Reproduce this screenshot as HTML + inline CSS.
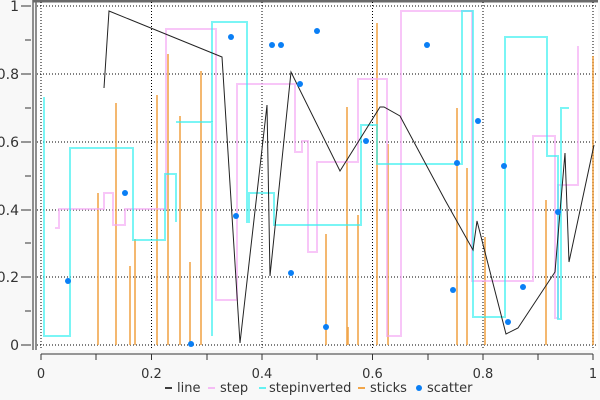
<!DOCTYPE html>
<html><head><meta charset="utf-8"><style>
html,body{margin:0;padding:0;background:#f8f8f8;}
svg{display:block;font-family:"DejaVu Sans","Liberation Sans",sans-serif;}
</style></head><body>
<svg width="600" height="400" viewBox="0 0 600 400" xmlns="http://www.w3.org/2000/svg">
<rect x="0" y="0" width="600" height="400" fill="#f8f8f8"/>
<rect x="36" y="2" width="562" height="348" fill="#ffffff"/>
<line x1="33" y1="1" x2="598" y2="1" stroke="#6a6a6a" stroke-width="3"/>
<line x1="33" y1="0" x2="33" y2="350" stroke="#6a6a6a" stroke-width="1.5"/>
<line x1="36" y1="0" x2="36" y2="350" stroke="#6a6a6a" stroke-width="1.5"/>
<g stroke="#000" stroke-width="1" stroke-dasharray="1,2">
<line x1="41" y1="2" x2="41" y2="350"/><line x1="151.5" y1="2" x2="151.5" y2="350"/><line x1="262" y1="2" x2="262" y2="350"/><line x1="372.5" y1="2" x2="372.5" y2="350"/><line x1="483" y1="2" x2="483" y2="350"/><line x1="593" y1="2" x2="593" y2="350"/>
<line x1="37" y1="6" x2="598" y2="6"/><line x1="37" y1="74" x2="598" y2="74"/><line x1="37" y1="142" x2="598" y2="142"/><line x1="37" y1="210" x2="598" y2="210"/><line x1="37" y1="277" x2="598" y2="277"/><line x1="37" y1="345" x2="598" y2="345"/>
</g>
<g stroke="#333" stroke-width="1">
<line x1="21" y1="6" x2="31" y2="6"/><line x1="25" y1="40" x2="31" y2="40"/><line x1="21" y1="74" x2="31" y2="74"/><line x1="25" y1="108" x2="31" y2="108"/><line x1="21" y1="142" x2="31" y2="142"/><line x1="25" y1="176" x2="31" y2="176"/><line x1="21" y1="210" x2="31" y2="210"/><line x1="25" y1="243" x2="31" y2="243"/><line x1="21" y1="277" x2="31" y2="277"/><line x1="25" y1="311" x2="31" y2="311"/><line x1="21" y1="345" x2="31" y2="345"/>
<line x1="41" y1="354" x2="593" y2="354"/>
<line x1="41" y1="354" x2="41" y2="360"/><line x1="96" y1="354" x2="96" y2="360"/><line x1="151.5" y1="354" x2="151.5" y2="360"/><line x1="207" y1="354" x2="207" y2="360"/><line x1="262" y1="354" x2="262" y2="360"/><line x1="317" y1="354" x2="317" y2="360"/><line x1="372.5" y1="354" x2="372.5" y2="360"/><line x1="428" y1="354" x2="428" y2="360"/><line x1="483" y1="354" x2="483" y2="360"/><line x1="538" y1="354" x2="538" y2="360"/><line x1="593" y1="354" x2="593" y2="360"/>
</g>
<g font-size="14" fill="#333" text-anchor="end">
<text x="19" y="11">1</text><text x="19" y="79">0.8</text><text x="19" y="147">0.6</text><text x="19" y="215">0.4</text><text x="19" y="282">0.2</text><text x="19" y="350">0</text>
</g>
<g font-size="13" fill="#333" text-anchor="middle">
<text x="41" y="378">0</text><text x="151.5" y="378">0.2</text><text x="262" y="378">0.4</text><text x="372.5" y="378">0.6</text><text x="483" y="378">0.8</text><text x="593" y="378">1</text>
</g>
<g stroke="#f0a040" stroke-opacity="0.75" stroke-width="2">
<line x1="98" y1="345" x2="98" y2="193"/><line x1="116" y1="345" x2="116" y2="103"/><line x1="130" y1="345" x2="130" y2="266"/><line x1="135" y1="345" x2="135" y2="239"/><line x1="157" y1="345" x2="157" y2="95"/><line x1="168" y1="345" x2="168" y2="54"/><line x1="180" y1="345" x2="180" y2="116"/><line x1="190" y1="345" x2="190" y2="262"/><line x1="201" y1="345" x2="201" y2="71"/>
<line x1="326" y1="345" x2="326" y2="234"/><line x1="347" y1="345" x2="347" y2="107"/><line x1="348" y1="345" x2="348" y2="327"/><line x1="358" y1="345" x2="358" y2="215"/><line x1="377" y1="345" x2="377" y2="23"/><line x1="388" y1="345" x2="388" y2="144"/>
<line x1="457" y1="345" x2="457" y2="108"/><line x1="467" y1="345" x2="467" y2="168"/><line x1="485" y1="345" x2="485" y2="237"/><line x1="546" y1="345" x2="546" y2="200"/><line x1="593" y1="345" x2="593" y2="56"/>
</g>
<g fill="none" stroke="#f4a8f4" stroke-opacity="0.65" stroke-width="2">
<polyline points="55,228 59,228 59,209 104,209 104,193 113,193 113,225 125,225 125,209 166,209 166,29 216,29 216,300 237,300 237,84 295,84 295,152 302,152 302,141 308,141 308,252 317,252 317,162 358,162 358,79 387,79 387,336 401,336 401,11 472,11 472,281 533,281 533,136 555,136 555,318 558,318 558,185 578,185 578,46"/>
</g>
<g fill="none" stroke="#33f0f0" stroke-opacity="0.65" stroke-width="2">
<polyline points="44,97 44,336 70,336 70,148 133,148 133,240 165,240 165,174 176,174 176,222"/>
<polyline points="176,122 212,122 212,336"/>
<polyline points="212,122 212,22 247,22 247,223"/>
<polyline points="249,223 249,193 274,193 274,225 361,225 361,125 377,125 377,164 462,164 462,11 473,11 473,317 505,317 505,37 547,37 547,156 558,156 558,319 561,319 561,108 569,108"/>
</g>
<polyline fill="none" stroke="#222" stroke-width="1" points="104,88 109,11 222,57 240,343 267,105 270,276 291,72 340,171 380,107 384,107 400,116 445,200 473,250 477,221 506,334 518,328 555,272 561,200 565,153 569,262 594,145"/>
<g fill="#0a7ff5">
<circle cx="68" cy="281" r="3"/><circle cx="125" cy="193" r="3"/><circle cx="191" cy="344" r="3"/><circle cx="231" cy="37" r="3"/><circle cx="236" cy="216" r="3"/><circle cx="272" cy="45" r="3"/><circle cx="281" cy="45" r="3"/><circle cx="300" cy="84" r="3"/><circle cx="291" cy="273" r="3"/><circle cx="317" cy="31" r="3"/><circle cx="326" cy="327" r="3"/><circle cx="366" cy="141" r="3"/><circle cx="427" cy="45" r="3"/><circle cx="453" cy="290" r="3"/><circle cx="457" cy="163" r="3"/><circle cx="478" cy="121" r="3"/><circle cx="504" cy="166" r="3"/><circle cx="508" cy="322" r="3"/><circle cx="523" cy="287" r="3"/><circle cx="558" cy="212" r="3"/>
</g>
<g font-size="13" fill="#333">
<line x1="165" y1="388" x2="172" y2="388" stroke="#000" stroke-width="1.5"/><text x="177" y="392">line</text>
<line x1="208" y1="388" x2="215" y2="388" stroke="#f4a8f4" stroke-width="1.5"/><text x="220" y="392">step</text>
<line x1="259" y1="388" x2="266" y2="388" stroke="#33f0f0" stroke-width="1.5"/><text x="269" y="392">stepinverted</text>
<line x1="358" y1="388" x2="365" y2="388" stroke="#f08a10" stroke-width="1.5"/><text x="370" y="392">sticks</text>
<circle cx="419" cy="388" r="3" fill="#0a7ff5"/><text x="427" y="392">scatter</text>
</g>
</svg>
</body></html>
